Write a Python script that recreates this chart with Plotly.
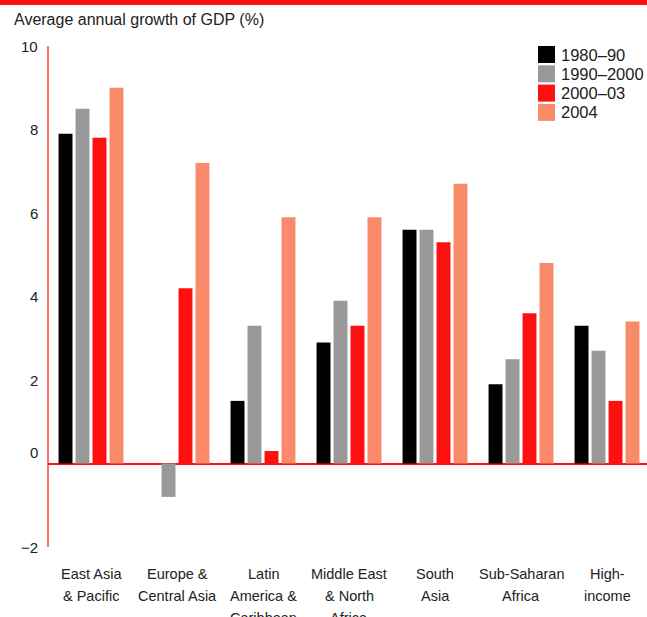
import plotly.graph_objects as go

categories = ["East Asia<br>& Pacific", "Europe &<br>Central Asia", "Latin<br>America &<br>Caribbean",
              "Middle East<br>& North<br>Africa", "South<br>Asia", "Sub-Saharan<br>Africa", "High-<br>income"]
series_names = ["1980–90", "1990–2000", "2000–03", "2004"]
v_1980_90 = [7.9, None, 1.5, 2.9, 5.6, 1.9, 3.3]
v_1990_2000 = [8.5, -0.8, 3.3, 3.9, 5.6, 2.5, 2.7]
v_2000_03 = [7.8, 4.2, 0.3, 3.3, 5.3, 3.6, 1.5]
v_2004 = [9.0, 7.2, 5.9, 5.9, 6.7, 4.8, 3.4]
colors = ["#000000", "#999999", "#ff1010", "#f98a6a"]
y_ticks = [10, 8, 6, 4, 2, 0, -2]
y_tick_labels = ["10", "8", "6", "4", "2", "0", "−2"]

fig = go.Figure()
for name, vals, c in zip(series_names, [v_1980_90, v_1990_2000, v_2000_03, v_2004], colors):
    fig.add_trace(go.Bar(x=list(range(len(categories))), y=vals, name=name,
                         marker=dict(color=c, line=dict(width=0)), showlegend=False))

font_main = "Liberation Sans, Arial, sans-serif"
fig.update_layout(
    width=647, height=617,
    margin=dict(l=48, r=0, t=46, b=70),
    paper_bgcolor="white", plot_bgcolor="white",
    barmode="group", bargap=0.21, bargroupgap=0.18,
    font=dict(family=font_main, size=15, color="#222"),
)
fig.update_xaxes(range=[-0.5, 6.465], showticklabels=False, automargin=False,
                 showgrid=False, showline=False, zeroline=False, ticks="")
fig.update_yaxes(range=[-2, 10], showgrid=False, showticklabels=False, ticks="", automargin=False,
                 showline=False, zeroline=True, zerolinecolor="#ff1010", zerolinewidth=1.5)

# category labels, one annotation per line for 22px line spacing
for i, lab in enumerate(categories):
    for k, line in enumerate(lab.split("<br>")):
        fig.add_annotation(x=i, xref="x", y=0, yref="paper", text=line, showarrow=False,
                           xanchor="center", yanchor="middle", yshift=-27 - 22 * k,
                           font=dict(family=font_main, size=14.5, color="#222"))

# y axis line
fig.add_shape(type="line", xref="paper", yref="paper", x0=0, x1=0, y0=0, y1=1,
              line=dict(color="#ff1010", width=1.2))

# tick labels
for v, t in zip(y_ticks, y_tick_labels):
    fig.add_annotation(x=0, xref="paper", y=v, yref="y", text=t, showarrow=False,
                       xanchor="right", xshift=-8, yshift=11 if v == 0 else 0,
                       font=dict(family=font_main, size=15, color="#222"))

pw, ph = 647 - 48, 501

# title
fig.add_annotation(x=(12 - 48) / pw, xref="paper", y=1, yref="paper", text="Average annual growth of GDP (%)",
                   showarrow=False, xanchor="left", yanchor="bottom", yshift=16,
                   font=dict(family=font_main, size=16, color="#222"))

# top red band
fig.add_shape(type="rect", xref="paper", yref="paper", x0=-0.1, x1=1.01,
              y0=1 + (46 - 5) / ph, y1=1 + 46 / ph + 0.01, fillcolor="#ff1010", line=dict(width=0))

# custom legend
for i, (name, c) in enumerate(zip(series_names, colors)):
    top = 46 + i * 19.3
    fig.add_shape(type="rect", xref="paper", yref="paper",
                  x0=(538 - 48) / pw, x1=(555 - 48) / pw,
                  y0=1 - (top + 17 - 46) / ph, y1=1 - (top - 46) / ph,
                  fillcolor=c, line=dict(width=0))
    fig.add_annotation(x=(559 - 48) / pw, xref="paper", y=1 - (top + 8.5 - 46) / ph, yref="paper",
                       text=name, showarrow=False, xanchor="left", yanchor="middle",
                       font=dict(family=font_main, size=16.5, color="#222"))

fig.write_html("out.html")
